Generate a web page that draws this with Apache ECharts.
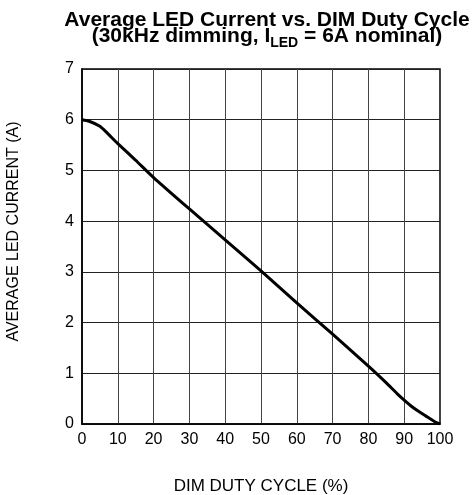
<!DOCTYPE html>
<html>
<head>
<meta charset="utf-8">
<script src="https://cdn.jsdelivr.net/npm/echarts@6/dist/echarts.min.js"></script>
<style>html,body{margin:0;padding:0;background:#fff}#c{width:473px;height:495px}</style>
</head>
<body>
<div id="c"></div>
<script>
var dutyCycle = [0, 2, 5, 7, 10, 15, 20, 30, 40, 50, 60, 70, 80, 85, 88, 90, 92, 94, 96, 98, 99, 100];
var ledCurrent = [6.0, 5.97, 5.87, 5.74, 5.53, 5.2, 4.86, 4.24, 3.63, 3.02, 2.39, 1.77, 1.14, 0.81, 0.6, 0.47, 0.35, 0.25, 0.16, 0.07, 0.03, 0.0];
var xTicks = [0, 10, 20, 30, 40, 50, 60, 70, 80, 90, 100];
var yTicks = [0, 1, 2, 3, 4, 5, 6, 7];

var chart = echarts.init(document.getElementById('c'), null, {renderer: 'canvas'});
var font = 'Liberation Sans, Arial, sans-serif';
var data = dutyCycle.map(function (d, i) { return [d, ledCurrent[i]]; });
chart.setOption({
  animation: false,
  backgroundColor: '#fff',
  title: {
    left: 262,
    top: 5,
    textAlign: 'center',
    text: '{a|Average LED Current vs. DIM Duty Cycle}\n{a|(30kHz dimming, I}{sub|LED}{a| = 6A nominal)}',
    textStyle: {
      rich: {
        a: {fontFamily: font, fontWeight: 'bold', fontSize: 21, lineHeight: 16, color: '#000', verticalAlign: 'top'},
        sub: {fontFamily: font, fontWeight: 'bold', fontSize: 14, lineHeight: 13, color: '#000', verticalAlign: 'top', padding: [10, 0, 0, 0]}
      }
    }
  },
  grid: {left: 82, right: 33, top: 69, bottom: 71, show: true, borderColor: '#000', borderWidth: 1.5, containLabel: false, outerBoundsMode: 'none'},
  xAxis: {
    type: 'value', min: 0, max: 100, interval: 10,
    name: 'DIM DUTY CYCLE (%)', nameLocation: 'middle', nameGap: 54,
    nameTextStyle: {fontFamily: font, fontSize: 17, color: '#000'},
    axisLine: {show: true, lineStyle: {color: '#000', width: 1.5}},
    axisTick: {show: false},
    axisLabel: {fontFamily: font, fontSize: 16, color: '#000', margin: 8,
      formatter: function (v) { return xTicks.indexOf(v) >= 0 ? String(v) : ''; }},
    splitLine: {show: true, lineStyle: {color: '#444', width: 1}}
  },
  yAxis: {
    type: 'value', min: 0, max: 7, interval: 1,
    name: 'AVERAGE LED CURRENT (A)', nameLocation: 'middle', nameGap: 60,
    nameTextStyle: {fontFamily: font, fontSize: 16, color: '#000', padding: [0, 0, 0, 30]},
    axisLine: {show: true, lineStyle: {color: '#000', width: 1.5}},
    axisTick: {show: false},
    axisLabel: {fontFamily: font, fontSize: 16, color: '#000', margin: 8,
      formatter: function (v) { return yTicks.indexOf(v) >= 0 ? String(v) : ''; }},
    splitLine: {show: true, lineStyle: {color: '#222', width: 1}}
  },
  series: [{
    type: 'line', data: data, smooth: 0.2, symbol: 'none',
    lineStyle: {color: '#000', width: 3}
  }]
});
</script>
</body>
</html>
